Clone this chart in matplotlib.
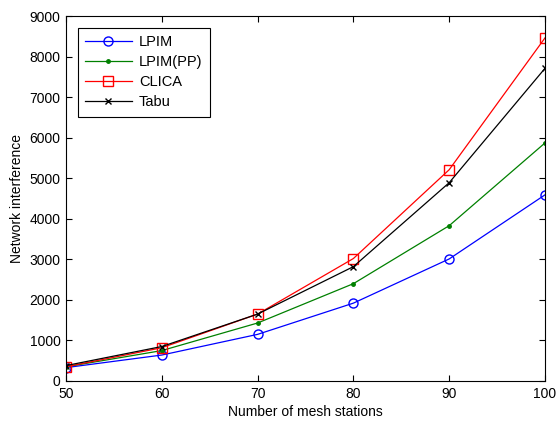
import matplotlib
matplotlib.use("Agg")
import matplotlib.pyplot as plt

plt.rcParams['font.family'] = ['Liberation Sans', 'DejaVu Sans']

stations = [50, 60, 70, 80, 90, 100]
lpim = [330, 640, 1150, 1920, 3010, 4590]
lpim_pp = [350, 750, 1430, 2400, 3830, 5870]
clica = [350, 820, 1650, 3020, 5210, 8460]
tabu = [380, 850, 1650, 2820, 4890, 7710]

fig = plt.figure(figsize=(5.57, 4.24), dpi=100)
ax = fig.add_axes([66/557, 1 - 381/424, (545 - 66)/557, (381 - 16)/424])

ax.plot(stations, lpim, color='blue', marker='o', markersize=6.5, markerfacecolor='none',
        lw=0.9, label='LPIM')
ax.plot(stations, lpim_pp, color='green', marker='.', markersize=5, lw=0.9, label='LPIM(PP)')
ax.plot(stations, clica, color='red', marker='s', markersize=7.5, markerfacecolor='none',
        lw=0.9, label='CLICA')
ax.plot(stations, tabu, color='black', marker='x', markersize=4.5, lw=0.9, label='Tabu')

ax.set_xlim(50, 100)
ax.set_ylim(0, 9000)
ax.set_xticks(stations)
ax.set_yticks(range(0, 9001, 1000))
ax.tick_params(direction='in', top=True, right=True, labelsize=10, length=4, pad=4)
ax.set_xlabel('Number of mesh stations', fontsize=10, labelpad=3)
ax.set_ylabel('Network interference', fontsize=10, labelpad=4)

leg = ax.legend(loc='upper left', fontsize=10.5, fancybox=False, edgecolor='black',
                framealpha=1, handlelength=3.2, borderaxespad=0.8, labelspacing=0.42,
                borderpad=0.5, handletextpad=0.5)
leg.get_frame().set_linewidth(0.8)

fig.savefig('out.png', dpi=100)
